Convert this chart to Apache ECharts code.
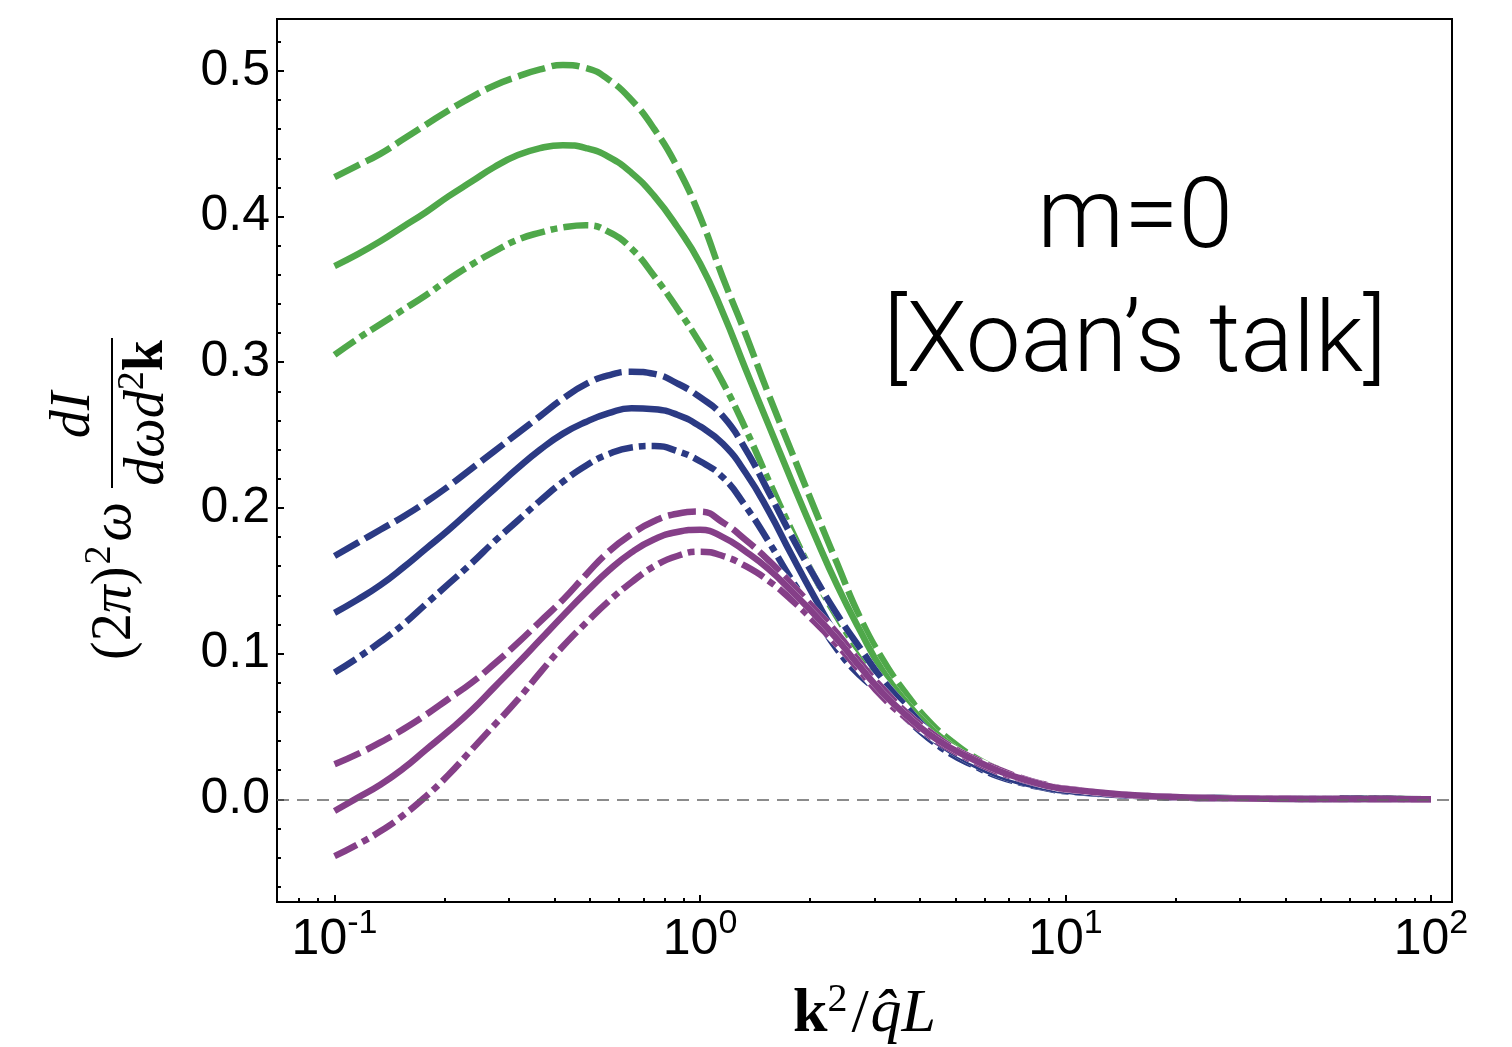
<!DOCTYPE html>
<html>
<head>
<meta charset="utf-8">
<script src="https://cdn.jsdelivr.net/npm/echarts@6/dist/echarts.min.js"></script>
<style>
html,body{margin:0;padding:0;background:#fff;}
#chart{width:1512px;height:1047px;}
</style>
</head>
<body>
<div id="chart"></div>
<script>
// ---- data (x = k^2 / qhat L, sampled every 1/16 decade up to 10, then every 1/4 decade) ----
const k2 = [0.1,0.1155,0.1334,0.1540,0.1778,0.2054,0.2371,0.2738,0.3162,0.3652,0.4217,0.4870,0.5623,0.6494,0.7499,0.8660,
            1.0,1.155,1.334,1.540,1.778,2.054,2.371,2.738,3.162,3.652,4.217,4.870,5.623,6.494,7.499,8.660,
            10,17.78,31.62,56.23,100];

const greenDashed   = [0.427,0.435,0.443,0.453,0.463,0.473,0.482,0.490,0.496,0.501,0.504,0.502,0.494,0.480,0.460,0.434,
                       0.400,0.358,0.319,0.278,0.239,0.200,0.162,0.125,0.096,0.073,0.054,0.040,0.029,0.021,0.0145,0.0100,
                       0.0065,0.0018,0.0006,0.0002,0.0001];
const greenSolid    = [0.366,0.374,0.383,0.393,0.403,0.414,0.424,0.434,0.442,0.447,0.449,0.447,0.441,0.430,0.414,0.393,
                       0.368,0.334,0.295,0.257,0.219,0.182,0.147,0.116,0.088,0.067,0.050,0.037,0.027,0.020,0.0140,0.0095,
                       0.0063,0.0018,0.0006,0.0002,0.0001];
const greenDotDash  = [0.305,0.316,0.326,0.336,0.346,0.357,0.367,0.376,0.384,0.389,0.3925,0.394,0.3895,0.378,0.359,0.337,
                       0.313,0.286,0.254,0.219,0.185,0.153,0.125,0.101,0.082,0.062,0.046,0.035,0.026,0.019,0.0130,0.0090,
                       0.0060,0.0018,0.0006,0.0002,0.0001];

const blueDashed    = [0.167,0.176,0.185,0.194,0.204,0.215,0.227,0.239,0.251,0.263,0.275,0.285,0.291,0.2935,0.292,0.2855,
                       0.276,0.263,0.240,0.211,0.181,0.153,0.127,0.104,0.082,0.064,0.047,0.035,0.026,0.018,0.0130,0.0090,
                       0.0060,0.0018,0.0006,0.0002,0.0001];
const blueSolid     = [0.128,0.137,0.147,0.159,0.172,0.185,0.199,0.213,0.227,0.240,0.251,0.259,0.265,0.2685,0.2678,0.264,
                       0.256,0.244,0.224,0.198,0.168,0.139,0.112,0.090,0.076,0.059,0.044,0.033,0.024,0.017,0.0120,0.0085,
                       0.0058,0.0018,0.0006,0.0002,0.0001];
const blueDotDash   = [0.087,0.097,0.108,0.120,0.134,0.148,0.162,0.177,0.191,0.205,0.218,0.229,0.237,0.2415,0.2425,0.239,
                       0.232,0.221,0.201,0.177,0.151,0.127,0.103,0.085,0.072,0.056,0.042,0.031,0.023,0.016,0.0115,0.0080,
                       0.0055,0.0018,0.0006,0.0002,0.0001];

const purpleDashed  = [0.024,0.031,0.039,0.048,0.058,0.069,0.080,0.093,0.107,0.122,0.137,0.154,0.170,0.182,0.191,0.196,
                       0.1975,0.190,0.178,0.164,0.148,0.131,0.114,0.094,0.076,0.060,0.047,0.036,0.028,0.021,0.0150,0.0105,
                       0.0072,0.0019,0.0006,0.0002,0.0001];
const purpleSolid   = [-0.008,0.001,0.010,0.021,0.034,0.047,0.061,0.077,0.093,0.1095,0.126,0.142,0.157,0.1695,0.1785,0.1835,
                       0.185,0.180,0.170,0.158,0.143,0.127,0.110,0.091,0.073,0.058,0.045,0.035,0.027,0.020,0.0145,0.0100,
                       0.0070,0.0019,0.0006,0.0002,0.0001];
const purpleDotDash = [-0.039,-0.031,-0.022,-0.011,0.002,0.017,0.034,0.051,0.068,0.087,0.105,0.121,0.136,0.149,0.160,0.167,
                       0.170,0.167,0.160,0.150,0.137,0.122,0.106,0.088,0.070,0.056,0.044,0.034,0.026,0.019,0.0140,0.0098,
                       0.0068,0.0019,0.0006,0.0002,0.0001];

// ---- ticks ----
const xMajorTicks = [0.1, 1, 10, 100];
const xMinorTicks = [0.08,0.09,0.2,0.3,0.4,0.5,0.6,0.7,0.8,0.9,2,3,4,5,6,7,8,9,20,30,40,50,60,70,80,90];
const yMajorTicks = [0.0,0.1,0.2,0.3,0.4,0.5];
const yMinorTicks = [-0.06,-0.04,-0.02,0.02,0.04,0.06,0.08,0.12,0.14,0.16,0.18,0.22,0.24,0.26,0.28,0.32,0.34,0.36,0.38,0.42,0.44,0.46,0.48,0.52];

const X_MIN = 0.06959, X_MAX = 114.15;   // k^2 range of the frame
const Y_MIN = -0.0705, Y_MAX = 0.5356;

const GREEN = '#4fa84a', BLUE = '#2b3a84', PURPLE = '#853f88';
const DASH = [28, 7];
const DOTDASH = [25, 6, 7, 6];
const LW = 6.5;

// drawing order: per colour dashed, dot-dashed, then solid on top
const curves = [
  {name:'green dashed',  vals:greenDashed,  color:GREEN,  dash:DASH},
  {name:'green dotdash', vals:greenDotDash, color:GREEN,  dash:DOTDASH},
  {name:'green solid',   vals:greenSolid,   color:GREEN,  dash:'solid'},
  {name:'blue dashed',   vals:blueDashed,   color:BLUE,   dash:DASH},
  {name:'blue dotdash',  vals:blueDotDash,  color:BLUE,   dash:DOTDASH},
  {name:'blue solid',    vals:blueSolid,    color:BLUE,   dash:'solid'},
  {name:'purple dashed', vals:purpleDashed, color:PURPLE, dash:DASH},
  {name:'purple dotdash',vals:purpleDotDash,color:PURPLE, dash:DOTDASH},
  {name:'purple solid',  vals:purpleSolid,  color:PURPLE, dash:'solid'}
];

const lg = v => Math.log10(v);
const series = [];
curves.forEach(c => {
  const data = k2.map((k, i) => [lg(k), c.vals[i]]);
  series.push({
    type:'line', name:c.name + ' bg', data, showSymbol:false, smooth:0.5,
    silent:true, lineStyle:{color:'#ffffff', width:LW, type:'solid', cap:'butt'}
  });
  series.push({
    type:'line', name:c.name, data, showSymbol:false, smooth:0.5,
    silent:true, lineStyle:{color:c.color, width:LW, type:c.dash, cap:'butt', join:'round'}
  });
});
series[series.length - 1].markLine = {
  silent:true, symbol:'none', label:{show:false}, animation:false,
  lineStyle:{color:'#666666', width:1.5, type:[12, 8]},
  data:[{yAxis:0}]
};

const chart = echarts.init(document.getElementById('chart'), null, {renderer:'canvas'});
chart.setOption({
  animation:false,
  backgroundColor:'#ffffff',
  grid:{left:277, top:19, right:60, bottom:145, show:true, borderColor:'#000', borderWidth:2,
        backgroundColor:'transparent', containLabel:false, outerBoundsMode:'none'},
  xAxis:[
    {
      type:'value', min:lg(X_MIN), max:lg(X_MAX), position:'bottom',
      axisLine:{show:true, onZero:false, lineStyle:{color:'#000', width:2}},
      splitLine:{show:false},
      axisTick:{show:true, inside:true, length:7, lineStyle:{color:'#000', width:2}, customValues:xMajorTicks.map(lg)},
      axisLabel:{
        show:true, margin:5, customValues:xMajorTicks.map(lg),
        formatter: v => { const e = Math.round(v); return '{b|10}{s|' + (e < 0 ? '-' + (-e) : e) + '}'; },
        rich:{
          b:{fontFamily:'Liberation Sans', fontSize:50, color:'#000', lineHeight:58, verticalAlign:'bottom'},
          s:{fontFamily:'Liberation Sans', fontSize:34, color:'#000', lineHeight:34, verticalAlign:'top'}
        }
      },
      name:'{k|k}{sup|2}{r|/}{it|q̂L}', nameLocation:'middle', nameGap:78,
      nameTextStyle:{
        rich:{
          k:{fontFamily:'Liberation Serif', fontWeight:'bold', fontSize:62, color:'#000', lineHeight:66, verticalAlign:'bottom'},
          sup:{fontFamily:'Liberation Serif', fontSize:40, color:'#000', lineHeight:40, verticalAlign:'top'},
          r:{fontFamily:'Liberation Serif', fontSize:62, color:'#000', lineHeight:66, verticalAlign:'bottom', padding:[0,2,0,4]},
          it:{fontFamily:'Liberation Serif', fontStyle:'italic', fontSize:62, color:'#000', lineHeight:66, verticalAlign:'bottom'}
        }
      }
    },
    {
      type:'value', min:lg(X_MIN), max:lg(X_MAX), position:'bottom',
      axisLine:{show:false, onZero:false}, splitLine:{show:false}, axisLabel:{show:false},
      axisTick:{show:true, inside:true, length:4, lineStyle:{color:'#000', width:2}, customValues:xMinorTicks.map(lg)}
    }
  ],
  yAxis:[
    {
      type:'value', min:Y_MIN, max:Y_MAX, position:'left',
      axisLine:{show:true, onZero:false, lineStyle:{color:'#000', width:2}},
      splitLine:{show:false},
      axisTick:{show:true, inside:true, length:7, lineStyle:{color:'#000', width:2}, customValues:yMajorTicks},
      axisLabel:{show:true, margin:7, customValues:yMajorTicks, formatter:v => v.toFixed(1),
        fontFamily:'Liberation Sans', fontSize:50, color:'#000'}
    },
    {
      type:'value', min:Y_MIN, max:Y_MAX, position:'left',
      axisLine:{show:false, onZero:false}, splitLine:{show:false}, axisLabel:{show:false},
      axisTick:{show:true, inside:true, length:4, lineStyle:{color:'#000', width:2}, customValues:yMinorTicks}
    }
  ],
  series: series,
  graphic:[
    {
      type:'text', x:1135, y:222,
      style:{text:'m=0', fontFamily:'Roboto', fontWeight:300, fontSize:98, fill:'#000', align:'center', verticalAlign:'middle'}
    },
    {
      type:'text', x:1135, y:346,
      style:{text:'[Xoan’s talk]', fontFamily:'Roboto', fontWeight:300, fontSize:98, fill:'#000', align:'center', verticalAlign:'middle'}
    },
    {
      type:'group', x:112, y:500, rotation:Math.PI/2,
      children:[
        {type:'text', x:-2, y:0, style:{
          text:'{p|(2}{pi|π}{p|)}{sup|2}{w|ω}', align:'right', verticalAlign:'middle',
          rich:{
            p:{fontFamily:'Liberation Serif', fontSize:56, fill:'#000', lineHeight:62, verticalAlign:'bottom'},
            pi:{fontFamily:'Liberation Serif', fontStyle:'italic', fontSize:56, fill:'#000', lineHeight:62, verticalAlign:'bottom'},
            sup:{fontFamily:'Liberation Serif', fontSize:38, fill:'#000', lineHeight:38, verticalAlign:'top', padding:[0,4,0,2]},
            w:{fontFamily:'Liberation Serif', fontStyle:'italic', fontSize:56, fill:'#000', lineHeight:62, verticalAlign:'bottom'}
          }
        }},
        {type:'line', shape:{x1:12, y1:0, x2:162, y2:0}, style:{stroke:'#000', lineWidth:2}},
        {type:'text', x:85, y:-10, style:{
          text:'dI', align:'center', verticalAlign:'bottom',
          fontFamily:'Liberation Serif', fontStyle:'italic', fontSize:56, fill:'#000'
        }},
        {type:'text', x:87, y:2, style:{
          text:'{i|dωd}{sup|2}{k|k}', align:'center', verticalAlign:'top',
          rich:{
            i:{fontFamily:'Liberation Serif', fontStyle:'italic', fontSize:56, fill:'#000', lineHeight:62, verticalAlign:'bottom'},
            sup:{fontFamily:'Liberation Serif', fontSize:38, fill:'#000', lineHeight:38, verticalAlign:'top'},
            k:{fontFamily:'Liberation Serif', fontWeight:'bold', fontSize:56, fill:'#000', lineHeight:62, verticalAlign:'bottom'}
          }
        }}
      ]
    }
  ]
});
</script>
</body>
</html>
